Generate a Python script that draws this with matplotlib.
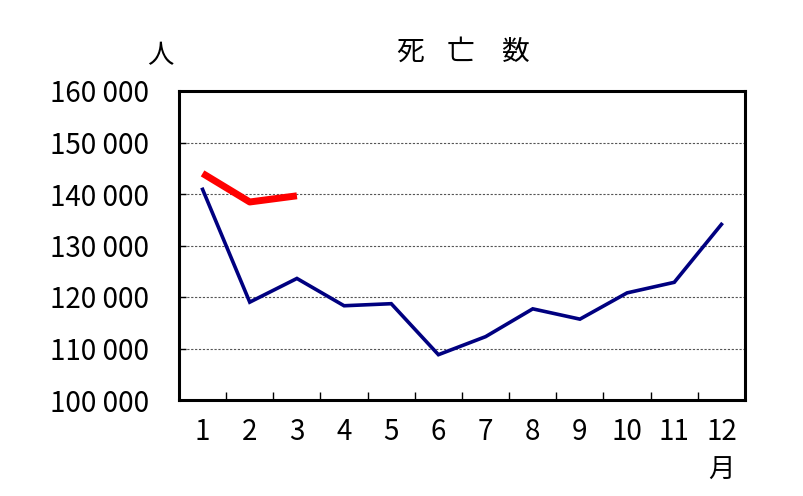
import matplotlib
matplotlib.use("Agg")
import matplotlib.pyplot as plt

months = [1, 2, 3, 4, 5, 6, 7, 8, 9, 10, 11, 12]
month_labels = [str(m) for m in months]
prev_year = [140900, 119000, 123600, 118300, 118700, 108800, 112300, 117700, 115700, 120800, 122850, 134100]
curr_months = [1, 2, 3]
curr_year = [144000, 138450, 139650]
yticks = [100000, 110000, 120000, 130000, 140000, 150000, 160000]
ytick_labels = ["100 000", "110 000", "120 000", "130 000", "140 000", "150 000", "160 000"]
title_chars = ["死", "亡", "数"]

plt.rcParams['font.family'] = ['Noto Sans CJK JP', 'DejaVu Sans']

fig = plt.figure(figsize=(8.04, 4.96), dpi=100)
ax = fig.add_axes([179/804, 1-400/496, (745-179)/804, (400-91)/496])

ax.plot(months, prev_year, color='#000080', lw=2.6, solid_joinstyle='miter')
ax.plot(curr_months, curr_year, color='#ff0000', lw=5, solid_capstyle='butt')

ax.set_xlim(0.5, 12.5)
ax.set_ylim(100000, 160000)
ax.set_yticks(yticks)
ax.set_yticklabels(ytick_labels, fontsize=20)
ax.set_xticks(months)
ax.set_xticklabels(month_labels, fontsize=20)
ax.tick_params(axis='x', length=0, pad=12)
ax.tick_params(axis='y', direction='in', length=5, width=1, pad=21.5)
ax.set_xticks([m + 0.5 for m in months[:-1]], minor=True)
ax.tick_params(axis='x', which='minor', direction='in', length=6, width=1)

for y in yticks[1:-1]:
    ax.axhline(y, color='#555555', lw=0.8, ls=(0, (2, 1.5)), zorder=0)

for s in ax.spines.values():
    s.set_linewidth(2.2)
    s.set_color('black')

for xpos, ch in zip([410, 461, 515], title_chars):
    fig.text(xpos/804, 1-52/496, ch, ha='center', va='center', fontsize=20)
fig.text(160/804, 1-56/496, '人', ha='center', va='center', fontsize=19)
fig.text(721/804, 1-470/496, '月', ha='center', va='center', fontsize=19)

fig.savefig('out.png', dpi=100)
